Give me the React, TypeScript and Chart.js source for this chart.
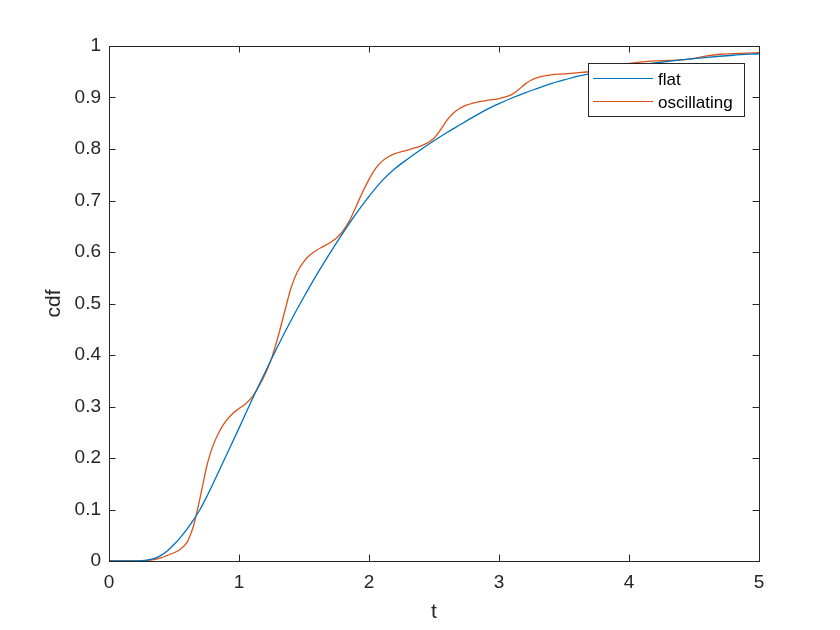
import React, { useEffect, useRef } from "react";
import { Chart, registerables } from "chart.js";

Chart.register(...registerables);

// ---- data ----
const flatT = [0, 0.1, 0.2, 0.25, 0.3, 0.35, 0.4, 0.45, 0.5, 0.55, 0.6, 0.65, 0.7, 0.75, 0.8, 0.9, 1.0, 1.1, 1.2, 1.3, 1.4, 1.5, 1.6, 1.7, 1.8, 1.9, 2.0, 2.1, 2.2, 2.3, 2.4, 2.5, 2.6, 2.7, 2.8, 2.9, 3.0, 3.1, 3.2, 3.3, 3.4, 3.5, 3.6, 3.7, 3.8, 3.9, 4.0, 4.2, 4.4, 4.6, 4.8, 5.0];
const flatCdf = [0, 0, 0, 0.0005, 0.002, 0.005, 0.011, 0.02, 0.032, 0.046, 0.062, 0.08, 0.1, 0.124, 0.15, 0.204, 0.258, 0.313, 0.366, 0.418, 0.467, 0.513, 0.557, 0.598, 0.637, 0.674, 0.708, 0.738, 0.762, 0.781, 0.799, 0.816, 0.832, 0.847, 0.862, 0.876, 0.888, 0.899, 0.909, 0.918, 0.927, 0.934, 0.941, 0.946, 0.951, 0.956, 0.96, 0.967, 0.973, 0.978, 0.982, 0.985];

const oscT = [0, 0.1, 0.2, 0.3, 0.4, 0.45, 0.5, 0.55, 0.6, 0.625, 0.65, 0.675, 0.7, 0.725, 0.75, 0.775, 0.8, 0.85, 0.9, 0.95, 1.0, 1.05, 1.1, 1.15, 1.2, 1.25, 1.3, 1.35, 1.4, 1.45, 1.5, 1.55, 1.6, 1.65, 1.7, 1.75, 1.8, 1.85, 1.9, 1.95, 2.0, 2.05, 2.1, 2.15, 2.2, 2.25, 2.3, 2.35, 2.4, 2.45, 2.5, 2.55, 2.6, 2.65, 2.7, 2.75, 2.8, 2.85, 2.9, 3.0, 3.05, 3.1, 3.15, 3.2, 3.25, 3.3, 3.35, 3.4, 3.5, 3.6, 3.7, 3.8, 3.9, 4.0, 4.1, 4.2, 4.3, 4.4, 4.5, 4.6, 4.7, 4.8, 4.9, 5.0];
const oscCdf = [0, 0, 0, 0.001, 0.006, 0.011, 0.016, 0.023, 0.036, 0.05, 0.068, 0.094, 0.122, 0.152, 0.182, 0.205, 0.224, 0.252, 0.272, 0.286, 0.296, 0.305, 0.318, 0.338, 0.362, 0.393, 0.435, 0.483, 0.53, 0.562, 0.582, 0.595, 0.604, 0.611, 0.618, 0.627, 0.641, 0.661, 0.688, 0.716, 0.741, 0.762, 0.776, 0.785, 0.791, 0.795, 0.798, 0.802, 0.806, 0.812, 0.821, 0.837, 0.856, 0.87, 0.879, 0.885, 0.889, 0.892, 0.894, 0.898, 0.901, 0.906, 0.915, 0.926, 0.934, 0.939, 0.942, 0.944, 0.946, 0.948, 0.95, 0.954, 0.96, 0.966, 0.969, 0.971, 0.972, 0.973, 0.976, 0.981, 0.984, 0.985, 0.986, 0.987];

const seriesNames = ["flat", "oscillating"];
const seriesColors = ["#0072BD", "#D95319"];
const xTicks = [0, 1, 2, 3, 4, 5];
const yTicks = [0, 0.1, 0.2, 0.3, 0.4, 0.5, 0.6, 0.7, 0.8, 0.9, 1];
const xLabel = "t";
const yLabel = "cdf";

const AXIS = "#262626";
const FONT = "'Liberation Sans', Arial, Helvetica, sans-serif";

const boxPlugin = {
  id: "matlabBox",
  afterDatasetsDraw(chart: any) {
    const { ctx, chartArea: a, scales } = chart;
    ctx.save();
    ctx.strokeStyle = AXIS;
    ctx.lineWidth = 1;
    const tl = 6.5;
    ctx.beginPath();
    for (const v of xTicks) {
      const px = Math.round(scales.x.getPixelForValue(v)) + 0.5;
      ctx.moveTo(px, a.bottom); ctx.lineTo(px, a.bottom - tl);
      ctx.moveTo(px, a.top); ctx.lineTo(px, a.top + tl);
    }
    for (const v of yTicks) {
      const py = Math.round(scales.y.getPixelForValue(v)) + 0.5;
      ctx.moveTo(a.left, py); ctx.lineTo(a.left + tl, py);
      ctx.moveTo(a.right, py); ctx.lineTo(a.right - tl, py);
    }
    ctx.stroke();
    ctx.strokeRect(Math.round(a.left) + 0.5, Math.round(a.top) + 0.5, Math.round(a.right - a.left), Math.round(a.bottom - a.top));

    // legend
    const lx = 588, ly = 63, lw = 156, lh = 53;
    ctx.fillStyle = "#ffffff";
    ctx.fillRect(lx, ly, lw, lh);
    ctx.strokeStyle = AXIS;
    ctx.strokeRect(lx + 0.5, ly + 0.5, lw, lh);
    const rows = [78, 101];
    ctx.font = `17px ${FONT}`;
    ctx.textBaseline = "middle";
    ctx.textAlign = "left";
    seriesNames.forEach((name, i) => {
      ctx.strokeStyle = seriesColors[i];
      ctx.lineWidth = 1.2;
      ctx.beginPath();
      ctx.moveTo(593, rows[i] + 0.5);
      ctx.lineTo(653, rows[i] + 0.5);
      ctx.stroke();
      ctx.fillStyle = "#000000";
      ctx.fillText(name, 658, rows[i] + 2);
    });
    ctx.restore();
  },
};

export default function App() {
  const ref = useRef<HTMLCanvasElement>(null);
  useEffect(() => {
    if (!ref.current) return;
    const chart = new Chart(ref.current, {
      type: "line",
      data: {
        datasets: [
          {
            label: seriesNames[0],
            data: flatT.map((t, i) => ({ x: t, y: flatCdf[i] })),
            borderColor: seriesColors[0],
            borderWidth: 1.3,
            pointRadius: 0,
            cubicInterpolationMode: "monotone",
            fill: false,
          },
          {
            label: seriesNames[1],
            data: oscT.map((t, i) => ({ x: t, y: oscCdf[i] })),
            borderColor: seriesColors[1],
            borderWidth: 1.3,
            pointRadius: 0,
            cubicInterpolationMode: "monotone",
            fill: false,
          },
        ],
      },
      options: {
        animation: false,
        responsive: false,
        devicePixelRatio: 1,
        layout: { padding: { left: 0, right: 81, top: 46, bottom: 0 } },
        plugins: { legend: { display: false }, tooltip: { enabled: false } },
        scales: {
          x: {
            type: "linear",
            min: 0,
            max: 5,
            afterBuildTicks: (s: any) => { s.ticks = xTicks.map((v) => ({ value: v })); },
            afterFit: (s: any) => { s.height = 69; },
            grid: { display: false, drawTicks: false },
            border: { display: false },
            ticks: {
              padding: 10,
              color: AXIS,
              font: { family: FONT, size: 19 },
              maxRotation: 0,
              callback: (v: any) => String(Number(Number(v).toFixed(1))),
            },
            title: {
              display: true,
              text: xLabel,
              color: AXIS,
              font: { family: FONT, size: 21 },
              padding: { top: 0, bottom: 5 },
            },
          },
          y: {
            type: "linear",
            min: 0,
            max: 1,
            afterBuildTicks: (s: any) => { s.ticks = yTicks.map((v) => ({ value: v })); },
            afterFit: (s: any) => { s.width = 109; },
            grid: { display: false, drawTicks: false },
            border: { display: false },
            ticks: {
              padding: 8,
              color: AXIS,
              font: { family: FONT, size: 19 },
              callback: (v: any) => String(Number(Number(v).toFixed(1))),
            },
            title: {
              display: true,
              text: yLabel,
              color: AXIS,
              font: { family: FONT, size: 21 },
              padding: { top: 42, bottom: 0 },
            },
          },
        },
      },
      plugins: [boxPlugin],
    } as any);
    return () => chart.destroy();
  }, []);
  return (
    <div style={{ position: "fixed", left: 0, top: 0, width: 840, height: 630, background: "#ffffff" }}>
      <canvas ref={ref} width={840} height={630} style={{ display: "block" }} />
    </div>
  );
}
